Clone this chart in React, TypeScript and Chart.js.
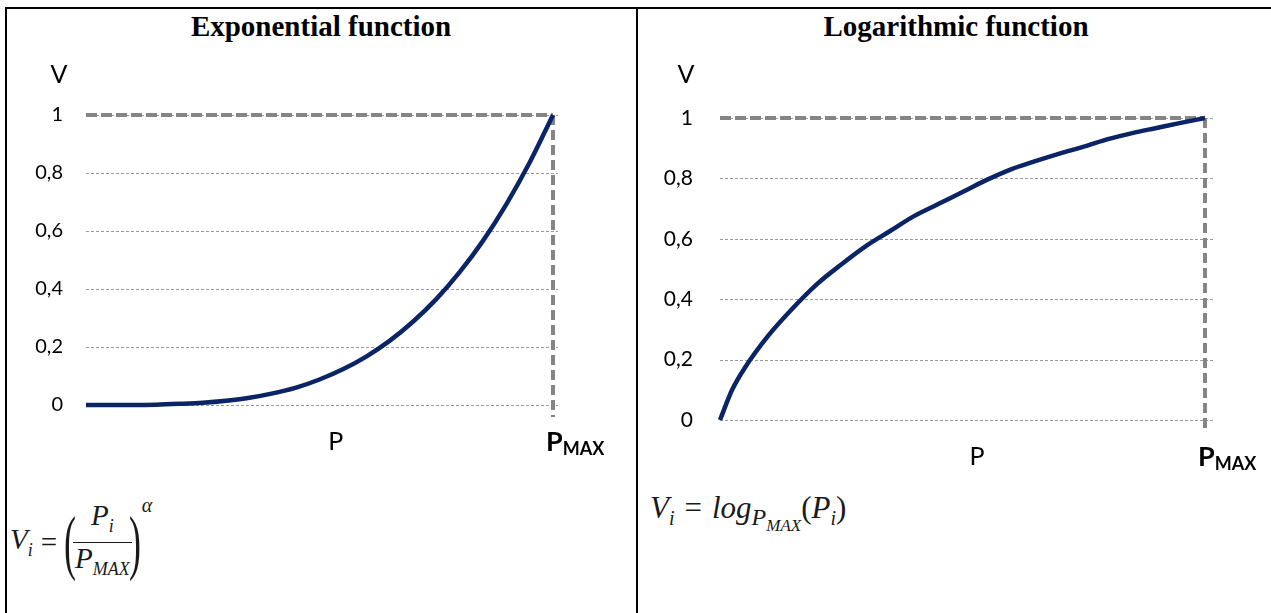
import React, { useEffect, useRef } from "react";
import { Chart, registerables } from "chart.js";

Chart.register(...registerables);

// ---- data ----
const yTickValues = [0, 0.2, 0.4, 0.6, 0.8, 1];
const yTickLabels = ["0", "0,2", "0,4", "0,6", "0,8", "1"];

const expP = [0, 0.05, 0.1, 0.15, 0.2, 0.25, 0.3, 0.35, 0.4, 0.45, 0.5, 0.55, 0.6, 0.65, 0.7, 0.75, 0.8, 0.85, 0.9, 0.95, 1];
const expV = [0, 0, 0, 0.001, 0.004, 0.008, 0.015, 0.025, 0.04, 0.06, 0.088, 0.123, 0.167, 0.221, 0.287, 0.365, 0.458, 0.566, 0.692, 0.836, 1];

const logP = [0, 0.025, 0.05, 0.1, 0.15, 0.2, 0.25, 0.3, 0.35, 0.4, 0.45, 0.5, 0.55, 0.6, 0.65, 0.7, 0.75, 0.8, 0.85, 0.9, 0.95, 1];
const logV = [0, 0.1, 0.17, 0.28, 0.37, 0.45, 0.515, 0.575, 0.625, 0.675, 0.715, 0.755, 0.795, 0.83, 0.857, 0.882, 0.905, 0.93, 0.95, 0.967, 0.984, 1];

const axisTitleV = "V";
const axisTitleP = "P";
const maxLabelMain = "P";
const maxLabelSub = "MAX";

type ChartCfg = {
  xs: number[];
  ys: number[];
  width: number;
  height: number;
  padding: { left: number; right: number; top: number; bottom: number };
  yWidth: number;
  tickPad: number;
  tickFont: number;
  gridOver: number;
  drop: number;
  vOff: [number, number];
  pPos: number;
  pDrop: number;
  labelFont: number;
};

const labelFamily = 'Lato, "Open Sans", sans-serif';

function makeGuides(cfg: ChartCfg) {
  return {
    id: "guides",
    beforeDatasetsDraw(chart: any) {
      const { ctx, chartArea } = chart;
      const x = chart.scales.x;
      const y = chart.scales.y;
      const xEnd = x.getPixelForValue(1);
      ctx.save();
      ctx.strokeStyle = "#9b9b9b";
      ctx.lineWidth = 1;
      ctx.setLineDash([3, 2]);
      for (const v of yTickValues) {
        const py = Math.round(y.getPixelForValue(v)) + 0.5;
        ctx.beginPath();
        ctx.moveTo(chartArea.left, py);
        ctx.lineTo(xEnd + cfg.gridOver, py);
        ctx.stroke();
      }
      const y1 = y.getPixelForValue(1);
      const y0 = y.getPixelForValue(0);
      ctx.strokeStyle = "#858585";
      ctx.lineWidth = 4;
      ctx.setLineDash([11, 4]);
      ctx.beginPath();
      ctx.moveTo(chartArea.left, y1);
      ctx.lineTo(xEnd, y1);
      ctx.stroke();
      ctx.setLineDash([10, 5]);
      ctx.beginPath();
      ctx.moveTo(xEnd, y1);
      ctx.lineTo(xEnd, y0 + cfg.drop);
      ctx.stroke();
      ctx.restore();
    },
    afterDraw(chart: any) {
      const { ctx, chartArea } = chart;
      const x = chart.scales.x;
      const y = chart.scales.y;
      const xEnd = x.getPixelForValue(1);
      const y0 = y.getPixelForValue(0);
      ctx.save();
      ctx.fillStyle = "#000";
      ctx.textBaseline = "middle";
      ctx.textAlign = "center";
      ctx.font = `${cfg.labelFont}px ${labelFamily}`;
      ctx.fillText(axisTitleV, chartArea.left + cfg.vOff[0], chartArea.top + cfg.vOff[1]);
      ctx.fillText(axisTitleP, x.getPixelForValue(cfg.pPos), y0 + cfg.pDrop);
      ctx.textAlign = "left";
      ctx.font = `bold ${cfg.labelFont + 2}px ${labelFamily}`;
      const sx = xEnd - 7;
      ctx.fillText(maxLabelMain, sx, y0 + cfg.pDrop);
      const w = ctx.measureText(maxLabelMain).width;
      ctx.font = `bold ${cfg.labelFont - 7}px ${labelFamily}`;
      ctx.fillText(maxLabelSub, sx + w, y0 + cfg.pDrop + 7);
      ctx.restore();
    },
  };
}

function FnChart({ cfg, style }: { cfg: ChartCfg; style: React.CSSProperties }) {
  const ref = useRef<HTMLCanvasElement | null>(null);
  useEffect(() => {
    if (!ref.current) return;
    const chart = new Chart(ref.current, {
      type: "line",
      data: {
        datasets: [
          {
            data: cfg.xs.map((p, i) => ({ x: p, y: cfg.ys[i] })),
            borderColor: "#0b2466",
            borderWidth: 4.5,
            pointRadius: 0,
            cubicInterpolationMode: "monotone",
            fill: false,
            clip: false as any,
          },
        ],
      },
      options: {
        animation: false,
        responsive: false,
        events: [],
        layout: { padding: cfg.padding },
        plugins: { legend: { display: false }, tooltip: { enabled: false } },
        scales: {
          x: { type: "linear", min: 0, max: 1, display: false },
          y: {
            type: "linear",
            min: 0,
            max: 1,
            grid: { display: false, drawTicks: false },
            border: { display: false },
            ticks: {
              stepSize: 0.2,
              padding: cfg.tickPad,
              color: "#000",
              font: { family: labelFamily, size: cfg.tickFont },
              callback: (v: any) => yTickLabels[Math.round(Number(v) * 5)],
            },
            afterFit: (s: any) => {
              s.width = cfg.yWidth;
            },
          },
        },
      },
      plugins: [makeGuides(cfg)],
    } as any);
    return () => chart.destroy();
  }, []);
  return <canvas ref={ref} width={cfg.width} height={cfg.height} style={{ position: "absolute", ...style }} />;
}

const leftCfg: ChartCfg = {
  xs: expP,
  ys: expV,
  width: 620,
  height: 440,
  padding: { left: 8, right: 75, top: 75, bottom: 75 },
  yWidth: 70,
  tickPad: 23,
  tickFont: 20,
  gridOver: 5,
  drop: 12,
  vOff: [-27, -40],
  pPos: 0.535,
  pDrop: 37,
  labelFont: 25,
};

const rightCfg: ChartCfg = {
  xs: logP,
  ys: logV,
  width: 631,
  height: 440,
  padding: { left: 8, right: 66, top: 78, bottom: 60 },
  yWidth: 72,
  tickPad: 27,
  tickFont: 21,
  gridOver: 8,
  drop: 12,
  vOff: [-34, -43],
  pPos: 0.53,
  pDrop: 37,
  labelFont: 25,
};

const serif = '"Liberation Serif", "Times New Roman", serif';

export default function App() {
  return (
    <div style={{ position: "absolute", left: 0, top: 0, width: 1271, height: 613, background: "#fff", overflow: "hidden" }}>
      {/* table borders */}
      <div style={{ position: "absolute", left: 5, top: 7, width: 1266, height: 2, background: "#000" }} />
      <div style={{ position: "absolute", left: 5, top: 7, width: 2, height: 606, background: "#000" }} />
      <div style={{ position: "absolute", left: 636, top: 7, width: 2, height: 606, background: "#000" }} />

      {/* titles */}
      <div style={{ position: "absolute", left: 6, width: 630, top: 10, textAlign: "center", fontFamily: serif, fontWeight: "bold", fontSize: 29, color: "#000" }}>
        Exponential function
      </div>
      <div style={{ position: "absolute", left: 638, width: 636, top: 10, textAlign: "center", fontFamily: serif, fontWeight: "bold", fontSize: 29, color: "#000" }}>
        Logarithmic function
      </div>

      <FnChart cfg={leftCfg} style={{ left: 8, top: 40 }} />
      <FnChart cfg={rightCfg} style={{ left: 640, top: 40 }} />

      {/* left formula */}
      <div style={{ position: "absolute", left: 10, top: 500, display: "flex", alignItems: "center", fontFamily: serif, fontStyle: "italic", fontSize: 29, color: "#1a1a1a" }}>
        <span>V<sub style={{ fontSize: 18 }}>i</sub></span>
        <span style={{ fontStyle: "normal", margin: "0 8px" }}>=</span>
        <span style={{ fontStyle: "normal", fontSize: 72, lineHeight: "72px", display: "inline-block", transform: "scaleX(0.5)", marginRight: -9, marginLeft: -7 }}>(</span>
        <span style={{ display: "inline-flex", flexDirection: "column", alignItems: "center" }}>
          <span style={{ lineHeight: "31px" }}>P<sub style={{ fontSize: 18 }}>i</sub></span>
          <span style={{ borderTop: "1.5px solid #1a1a1a", lineHeight: "31px", padding: "0 2px" }}>P<sub style={{ fontSize: 18 }}>MAX</sub></span>
        </span>
        <span style={{ fontStyle: "normal", fontSize: 72, lineHeight: "72px", display: "inline-block", transform: "scaleX(0.5)", marginLeft: -9, marginRight: -5 }}>)</span>
        <span style={{ alignSelf: "flex-start", fontSize: 20, marginTop: -6 }}>α</span>
      </div>

      {/* right formula */}
      <div style={{ position: "absolute", left: 650, top: 490, fontFamily: serif, fontStyle: "italic", fontSize: 31, color: "#1a1a1a", whiteSpace: "nowrap" }}>
        V<sub style={{ fontSize: 20 }}>i</sub>
        <span style={{ fontStyle: "normal", margin: "0 10px" }}>=</span>
        log<sub style={{ fontSize: 24 }}>P<sub style={{ fontSize: 17 }}>MAX</sub></sub>
        <span style={{ fontStyle: "normal" }}>(</span>P<sub style={{ fontSize: 20 }}>i</sub>
        <span style={{ fontStyle: "normal" }}>)</span>
      </div>
    </div>
  );
}
